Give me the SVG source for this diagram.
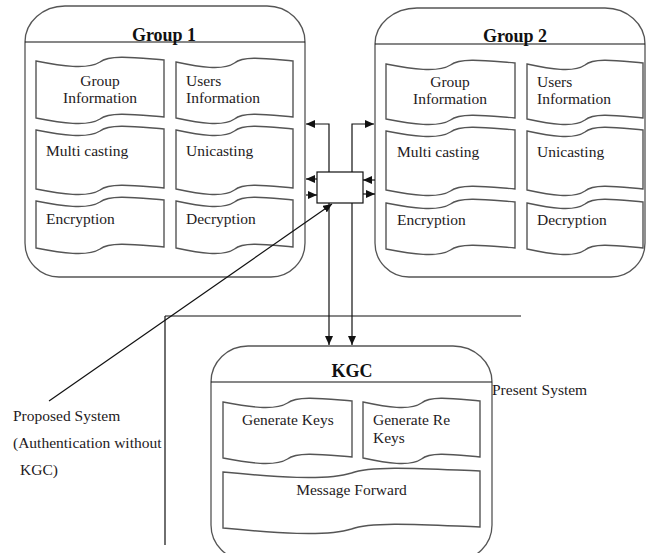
<svg xmlns="http://www.w3.org/2000/svg" width="647" height="553" viewBox="0 0 647 553">
<style>
.grp{fill:#fff;stroke:#555;stroke-width:1.3}
.tl{fill:none;stroke:#111;stroke-width:1.2}
.tape{fill:#fff;stroke:#555;stroke-width:1.4}
.t{font-family:"Liberation Serif","Times New Roman",serif;font-size:15.5px;fill:#1e1a22}
.c{text-anchor:middle}
.h{font-family:"Liberation Serif","Times New Roman",serif;font-size:18px;font-weight:bold;fill:#111;text-anchor:middle}
.ln{fill:none;stroke:#111;stroke-width:1.2}
</style>
<defs>
<marker id="ah" markerUnits="userSpaceOnUse" markerWidth="9" markerHeight="8" refX="9" refY="4" orient="auto">
<path d="M0,0 L9,4 L0,8 Z" fill="#111"/>
</marker>
</defs>
<rect width="647" height="553" fill="#fff"/>

<g id="group1">
<path class="grp" d="M25,42 A40,36 0 0 1 65,6 L267,6 A38,36 0 0 1 305,42 L305,243 A34,34 0 0 1 271,277 L59,277 A34,34 0 0 1 25,243 Z"/>
<path class="tl" d="M25,42 H305"/>
<text class="h" x="164" y="41">Group 1</text>
<path class="tape" d="M36,61 C61.6,66 87.2,70 100,62 C110.2,54 138.4,58 164,60 L164,117 C138.4,115 110.2,111 100,119 C87.2,127 61.6,123 36,118 Z"/>
<text class="t c" x="100" y="86">Group</text>
<text class="t c" x="100" y="103">Information</text>
<path class="tape" d="M176,62 C199.4,67 222.8,71 234.5,63 C243.9,55 269.6,59 293,61 L293,117 C269.6,115 243.9,111 234.5,119 C222.8,127 199.4,123 176,118 Z"/>
<text class="t" x="186" y="86">Users</text>
<text class="t" x="186" y="103">Information</text>
<path class="tape" d="M36,130 C61.6,135 87.2,139 100,131 C110.2,123 138.4,127 164,129 L164,188 C138.4,186 110.2,182 100,190 C87.2,198 61.6,194 36,189 Z"/>
<text class="t" x="46" y="156">Multi casting</text>
<path class="tape" d="M176,130 C199.4,135 222.8,139 234.5,131 C243.9,123 269.6,127 293,129 L293,188 C269.6,186 243.9,182 234.5,190 C222.8,198 199.4,194 176,189 Z"/>
<text class="t" x="186" y="156">Unicasting</text>
<path class="tape" d="M36,201 C61.6,206 87.2,210 100,202 C110.2,194 138.4,198 164,200 L164,247 C138.4,245 110.2,241 100,249 C87.2,257 61.6,253 36,248 Z"/>
<text class="t" x="46" y="224">Encryption</text>
<path class="tape" d="M176,201 C199.4,206 222.8,210 234.5,202 C243.9,194 269.6,198 293,200 L293,247 C269.6,245 243.9,241 234.5,249 C222.8,257 199.4,253 176,248 Z"/>
<text class="t" x="186" y="224">Decryption</text>
</g>

<g id="group2">
<path class="grp" d="M375,44 A42,36 0 0 1 417,8 L605,8 A40,36 0 0 1 645,44 L645,243 A34,34 0 0 1 611,277 L409,277 A34,34 0 0 1 375,243 Z"/>
<path class="tl" d="M375,44 H645"/>
<text class="h" x="515" y="42">Group 2</text>
<path class="tape" d="M386,64 C411.8,69 437.6,73 450.5,65 C460.8,57 489.2,61 515,63 L515,118 C489.2,116 460.8,112 450.5,120 C437.6,128 411.8,124 386,119 Z"/>
<text class="t c" x="450" y="87">Group</text>
<text class="t c" x="450" y="104">Information</text>
<path class="tape" d="M527,64 C550.2,69 573.4,73 585,65 C594.3,57 619.8,61 643,63 L643,118 C619.8,116 594.3,112 585,120 C573.4,128 550.2,124 527,119 Z"/>
<text class="t" x="537" y="87">Users</text>
<text class="t" x="537" y="104">Information</text>
<path class="tape" d="M386,131 C411.8,136 437.6,140 450.5,132 C460.8,124 489.2,128 515,130 L515,189 C489.2,187 460.8,183 450.5,191 C437.6,199 411.8,195 386,190 Z"/>
<text class="t" x="397" y="157">Multi casting</text>
<path class="tape" d="M527,131 C550.2,136 573.4,140 585,132 C594.3,124 619.8,128 643,130 L643,189 C619.8,187 594.3,183 585,191 C573.4,199 550.2,195 527,190 Z"/>
<text class="t" x="537" y="157">Unicasting</text>
<path class="tape" d="M386,203 C411.8,208 437.6,212 450.5,204 C460.8,196 489.2,200 515,202 L515,248 C489.2,246 460.8,242 450.5,250 C437.6,258 411.8,254 386,249 Z"/>
<text class="t" x="397" y="225">Encryption</text>
<path class="tape" d="M527,203 C550.2,208 573.4,212 585,204 C594.3,196 619.8,200 643,202 L643,248 C619.8,246 594.3,242 585,250 C573.4,258 550.2,254 527,249 Z"/>
<text class="t" x="537" y="225">Decryption</text>
</g>

<g id="kgc">
<path class="grp" d="M211,382 A37,36 0 0 1 248,346 L453,346 A39,36 0 0 1 492,382 L492,525 A35,35 0 0 1 457,560 L246,560 A35,35 0 0 1 211,525 Z"/>
<path class="tl" d="M211,382 H492"/>
<text class="h" x="352" y="377">KGC</text>
<path class="tape" d="M223,402 C248.8,407 274.6,411 287.5,403 C297.8,395 326.2,399 352,401 L352,457 C326.2,455 297.8,451 287.5,459 C274.6,467 248.8,463 223,458 Z"/>
<text class="t" x="242" y="425">Generate Keys</text>
<path class="tape" d="M363,402 C386.4,407 409.8,411 421.5,403 C430.9,395 456.6,399 480,401 L480,457 C456.6,455 430.9,451 421.5,459 C409.8,467 386.4,463 363,458 Z"/>
<text class="t" x="373" y="425">Generate Re</text>
<text class="t" x="373" y="443">Keys</text>
<path class="tape" d="M223,472 C274.4,477 325.8,481 351.5,473 C372.1,465 428.6,469 480,471 L480,527 C428.6,525 372.1,521 351.5,529 C325.8,537 274.4,533 223,528 Z"/>
<text class="t c" x="351.5" y="495">Message Forward</text>
</g>

<g id="hub">
<rect x="317" y="172" width="46" height="31" fill="#fff" stroke="#111" stroke-width="1.2"/>
</g>

<g id="connectors">
<path class="ln" d="M329,172 V124 H306" marker-end="url(#ah)"/>
<path class="ln" d="M352,172 V124 H374" marker-end="url(#ah)"/>
<path class="ln" d="M317,179 H306" marker-end="url(#ah)"/>
<path class="ln" d="M306,195 H317" marker-end="url(#ah)"/>
<path class="ln" d="M375,180 H363" marker-end="url(#ah)"/>
<path class="ln" d="M363,194 H375" marker-end="url(#ah)"/>
<path class="ln" d="M329,203 V345" marker-end="url(#ah)"/>
<path class="ln" d="M352,203 V345" marker-end="url(#ah)"/>
<path class="ln" d="M49,401 L332,204" marker-end="url(#ah)"/>
<path class="ln" d="M165,316 H521 M165,316 V545"/>
</g>

<g id="labels">
<text class="t" x="492" y="395">Present System</text>
<text class="t" x="13" y="421">Proposed System</text>
<text class="t" x="13" y="448">(Authentication without</text>
<text class="t" x="20" y="475">KGC)</text>
</g>
</svg>
